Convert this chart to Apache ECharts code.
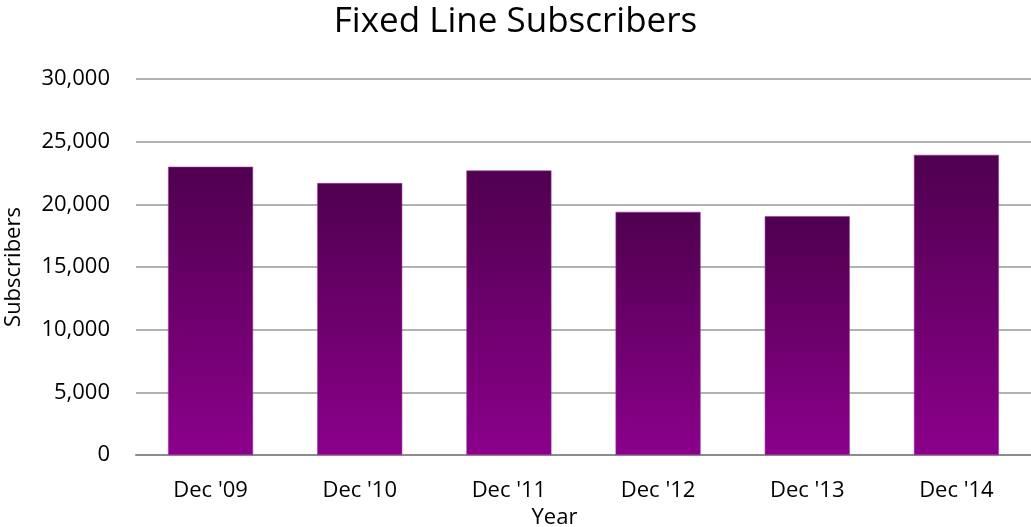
<!DOCTYPE html>
<html><head><meta charset="utf-8">
<script src="https://cdn.jsdelivr.net/npm/echarts@6/dist/echarts.min.js"></script>
<style>html,body{margin:0;padding:0;background:#fff}#c{width:1031px;height:527px}</style>
</head><body><div id="c"></div>
<script>
const categories = ["Dec '09", "Dec '10", "Dec '11", "Dec '12", "Dec '13", "Dec '14"];
const subscribers = [23000, 21700, 22700, 19400, 19050, 23950];
const yTicks = [0, 5000, 10000, 15000, 20000, 25000, 30000];

const chart = echarts.init(document.getElementById('c'));
const font = "'Open Sans', 'Noto Sans', sans-serif";
chart.setOption({
  animation: false,
  title: {
    text: 'Fixed Line Subscribers', left: 'center', top: 0,
    textStyle: { fontFamily: font, fontSize: 35, fontWeight: 'normal', color: '#000' }
  },
  grid: { left: 136, right: 0, top: 79, bottom: 72, outerBoundsMode: 'none', containLabel: false },
  xAxis: {
    type: 'category', data: categories,
    name: 'Year', nameLocation: 'middle', nameGap: 47,
    nameTextStyle: { fontFamily: font, fontSize: 22, color: '#000', padding: [0, 58, 0, 0] },
    axisLine: { lineStyle: { color: '#8c8c8c', width: 2 } },
    axisTick: { show: false },
    axisLabel: { fontFamily: font, fontSize: 22, color: '#000', margin: 25 }
  },
  yAxis: {
    type: 'value', min: yTicks[0], max: yTicks[yTicks.length - 1], interval: 5000,
    name: 'Subscribers', nameLocation: 'middle', nameGap: 111,
    nameTextStyle: { fontFamily: font, fontSize: 22, color: '#000' },
    axisLine: { show: false }, axisTick: { show: false },
    axisLabel: {
      fontFamily: font, fontSize: 22, color: '#000', margin: 26,
      formatter: v => v.toLocaleString('en-US')
    },
    splitLine: { lineStyle: { color: '#999999', width: 1.5 } }
  },
  series: [{
    type: 'bar', data: subscribers, barCategoryGap: '43%',
    itemStyle: {
      color: new echarts.graphic.LinearGradient(0, 0, 0, 1, [
        { offset: 0, color: '#4f004f' },
        { offset: 1, color: '#8b008b' }
      ]),
      borderColor: '#9a3a9a', borderWidth: 0.6
    }
  }]
});
</script></body></html>
